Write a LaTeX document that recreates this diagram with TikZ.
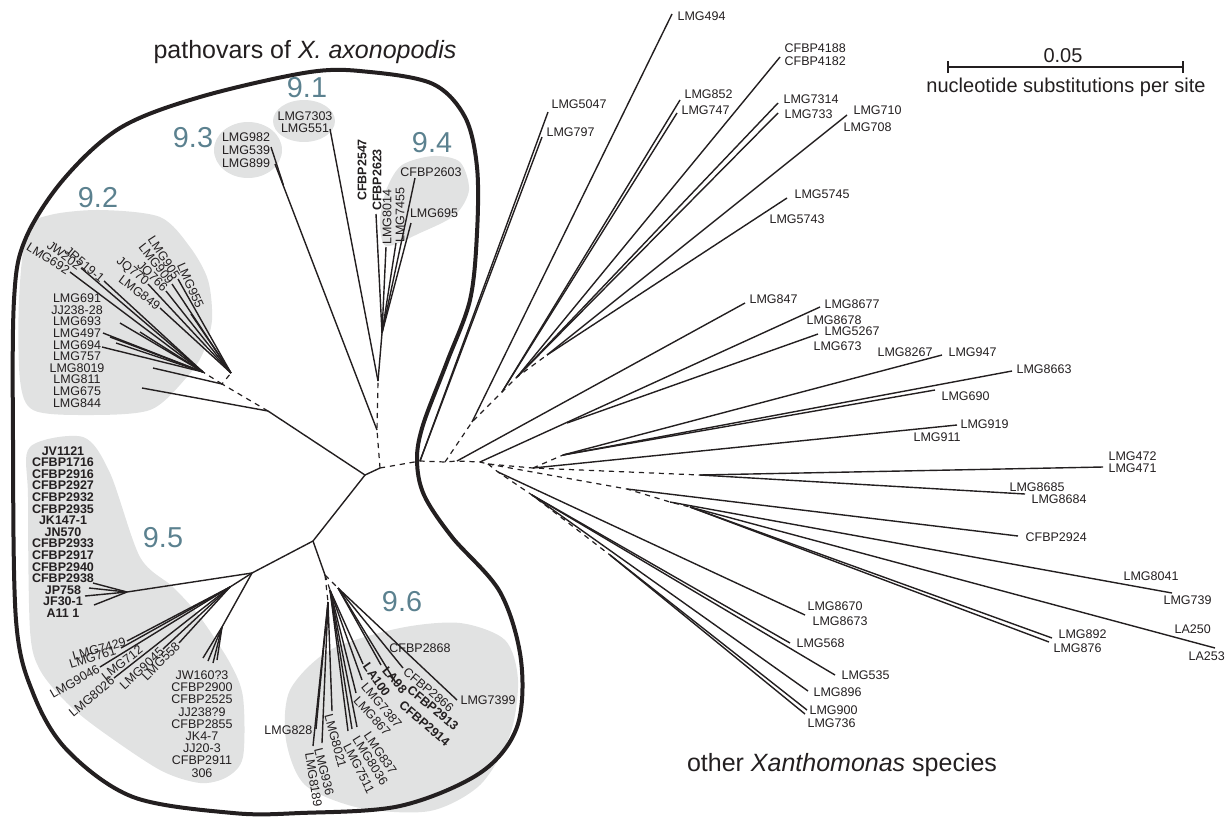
\documentclass[tikz,border=0pt]{standalone}
\usepackage{fontspec}
\setmainfont{Liberation Sans}
\definecolor{clustcol}{RGB}{91,129,143}
\definecolor{blobgrey}{RGB}{225,226,226}
\definecolor{inkcol}{RGB}{35,31,32}
\tikzset{
  br/.style={inkcol,line width=0.7pt},
  dbr/.style={inkcol,line width=0.6pt,dash pattern=on 2.6pt off 2.4pt},
  lf/.style={inkcol,font=\fontsize{6.25}{5.8}\selectfont,inner sep=0.6pt},
  lfb/.style={lf,font=\fontsize{6.25}{5.8}\selectfont\bfseries},
  blob/.style={fill=blobgrey},
  clab/.style={text=clustcol,font=\fontsize{14.4}{15}\selectfont},
}
\begin{document}
\begin{tikzpicture}[x=0.5pt,y=-0.5pt]
  \useasboundingbox (0,0) rectangle (1231,820);
  % grey cluster areas
  \fill[blob] plot[smooth cycle] coordinates {(27,230) (50,215) (100,210) (160,217) (190,247) (208,280) (212,320) (203,353) (187,377) (150,410) (83,415) (33,410) (20,380) (19,300)};
  \fill[blob] (304,121) ellipse [x radius=15.5pt,y radius=10.5pt];
  \fill[blob] (248,150) ellipse [x radius=17pt,y radius=14pt];
  \fill[blob] plot[smooth cycle] coordinates {(387,188) (402,165) (433,156) (460,162) (469,190) (455,215) (420,233) (386,246) (380,220)};
  \fill[blob] plot[smooth cycle] coordinates {(30,447) (83,437) (110,473) (140,557) (173,587) (200,617) (230,663) (243,697) (243,757) (227,777) (200,783) (160,770) (100,730) (67,703) (40,670) (30,630) (28,497)};
  \fill[blob] plot[smooth cycle] coordinates {(290,690) (330,650) (400,628) (460,623) (505,640) (518,680) (510,735) (480,785) (430,811) (360,808) (305,785) (286,740)};
  % outline of the pathovar group
  \draw[inkcol,line width=2pt] plot[smooth cycle,tension=0.55] coordinates {(300,813) (400,806) (480,773) (517,727) (521,660) (500,592) (452,537) (424,495) (417,460) (423,425) (447,362) (470,300) (477,233) (477,167) (465,117) (433,84) (370,72) (310,72) (200,97) (120,128) (63,180) (25,240) (14,300) (13,440) (16,620) (33,693) (67,750) (133,797) (233,813)};

  % backbone of the pathovars
  \coordinate (nA) at (380,468);
  \coordinate (nB) at (365,475);
  \coordinate (n92) at (268,411);
  \coordinate (n95) at (313,541);
  \coordinate (n93) at (377,430);
  \coordinate (nN) at (378,381);
  \coordinate (nP) at (382,333);
  \draw[br] (nA) -- (nB) -- (n92);
  \draw[br] (nB) -- (n95);
  \draw[dbr] (nA) -- (n93) -- (nN);

  % 9.2
  \coordinate (n92c) at (222,384);
  \coordinate (n92a) at (231,373);
  \coordinate (n92b) at (203,372);
  \draw[dbr] (n92) -- (n92c) -- (n92a);
  \draw[dbr] (n92c) -- (n92b);
  \coordinate (e955) at (191,314);
  \coordinate (e905) at (178,279);
  \coordinate (e909) at (172,284);
  \coordinate (e766) at (166,291);
  \coordinate (e770) at (148,284);
  \coordinate (e849) at (160,308);
  \foreach \leaf in {e955,e905,e909,e766,e770,e849} \draw[br] (n92a) -- (\leaf);
  \coordinate (e692) at (70,272);
  \coordinate (e202) at (81,268);
  \coordinate (e519) at (104,281);
  \coordinate (e693) at (120,323);
  \coordinate (e497) at (103,333);
  \coordinate (e497b) at (110,337);
  \coordinate (e694) at (102,347);
  \coordinate (e757) at (116,343);
  \coordinate (e691) at (140,332);
  \foreach \leaf in {e692,e202,e519,e693,e497,e497b,e694,e757,e691} \draw[br] (n92b) -- (\leaf);
  \coordinate (e8019) at (153,368);
  \coordinate (e844) at (142,388);
  \draw[br] (n92c) -- (e8019);
  \draw[br] (n92) -- (e844);
  \node[lf,anchor=east,rotate=-66] (t955) at (201,309) {LMG955};
  \node[lf,anchor=east,rotate=-57] (t905) at (e905) {LMG905};
  \node[lf,anchor=east,rotate=-52] (t909) at (e909) {LMG909};
  \node[lf,anchor=east,rotate=-45] (t766) at (e766) {JQ766};
  \node[lf,anchor=east,rotate=-38] (t770) at (e770) {JQ770};
  \node[lf,anchor=east,rotate=-37] (t849) at (e849) {LMG849};
  \node[lf,anchor=east,rotate=-32] (t692) at (e692) {LMG692};
  \node[lf,anchor=east,rotate=-37] (t202) at (e202) {JW202};
  \node[lf,anchor=east,rotate=-40] (t519) at (e519) {JR519-1};
  \node[lf,align=center] (t92list) at (77,350.5) {LMG691\\JJ238-28\\LMG693\\LMG497\\LMG694\\LMG757\\LMG8019\\LMG811\\LMG675\\LMG844};

  % 9.1, 9.3, 9.4
  \coordinate (e899) at (275,164);
  \coordinate (n93j) at (283.4,185);
  \coordinate (e539) at (271,147);
  \draw[br] (n93) -- (e899);
  \draw[br] (n93j) -- (e539);
  \coordinate (e551) at (330,129);
  \draw[br] (nN) -- (e551);
  \draw[br] (nN) -- (nP);
  \coordinate (e2623) at (376,214);
  \coordinate (e8014) at (386,247);
  \coordinate (e7455) at (396,243);
  \coordinate (e2603) at (415,178);
  \coordinate (e695) at (411,223);
  \foreach \leaf in {e2623,e8014,e7455,e2603,e695} \draw[br] (nP) -- (\leaf);
  \node[lf,align=center,font=\fontsize{6.25}{6}\selectfont] (t91) at (305,122) {LMG7303\\LMG551};
  \node[lf,align=center,font=\fontsize{6.25}{6.5}\selectfont] (t93) at (246,150) {LMG982\\LMG539\\LMG899};
  \node[lfb,rotate=90] (t2547) at (362,170) {CFBP2547};
  \node[lfb,rotate=90] (t2623) at (377,180) {CFBP2623};
  \node[lf,rotate=90] (t8014) at (387,217) {LMG8014};
  \node[lf,rotate=90] (t7455) at (400,215) {LMG7455};
  \node[lf] (t2603) at (431,172) {CFBP2603};
  \node[lf] (t695) at (434,213) {LMG695};

  % 9.5
  \coordinate (n95f) at (252,573);
  \coordinate (n95g) at (127,592);
  \coordinate (n95h) at (230,587);
  \coordinate (n95i) at (222,627);
  \draw[br] (n95) -- (n95f) -- (n95g);
  \draw[br] (n95f) -- (n95h);
  \draw[br] (n95f) -- (n95i);
  \coordinate (g1) at (89,588);
  \coordinate (g2) at (85,596);
  \coordinate (g3) at (94,605);
  \coordinate (g4) at (93,583);
  \foreach \leaf in {g1,g2,g3,g4} \draw[br] (n95g) -- (\leaf);
  \coordinate (i1) at (203,658);
  \coordinate (i2) at (208,661);
  \coordinate (i3) at (213,663);
  \coordinate (i4) at (217,660);
  \foreach \leaf in {i1,i2,i3,i4} \draw[br] (n95i) -- (\leaf);
  \coordinate (e7429) at (127,641);
  \coordinate (e761) at (121,648);
  \coordinate (e9046) at (100,667);
  \coordinate (e8026) at (114,678);
  \coordinate (e9045) at (163,649);
  \coordinate (e558) at (179,643);
  \foreach \leaf in {e7429,e761,e9046,e8026,e9045,e558} \draw[br] (n95h) -- (\leaf);
  \node[lf,anchor=east,rotate=16] (t7429) at (e7429) {LMG7429};
  \node[lf,anchor=east,rotate=17] (t761) at (117,650) {LMG761};
  \node[lf,anchor=east,rotate=30] (t9046) at (e9046) {LMG9046};
  \node[lf,rotate=38] (t712) at (122,663) {LMG712};
  \node[lf,anchor=east,rotate=40] (t8026) at (e8026) {LMG8026};
  \node[lf,anchor=east,rotate=43] (t9045) at (e9045) {LMG9045};
  \node[lf,anchor=east,rotate=45] (t558) at (e558) {LMG558};
  \node[lfb,align=center] (t95list) at (63,532) {JV1121\\CFBP1716\\CFBP2916\\CFBP2927\\CFBP2932\\CFBP2935\\JK147-1\\JN570\\CFBP2933\\CFBP2917\\CFBP2940\\CFBP2938\\JP758\\JF30-1\\A11 1};
  \node[lf,align=center,font=\fontsize{6.25}{6.1}\selectfont] (t95jw) at (202,724) {JW160?3\\CFBP2900\\CFBP2525\\JJ238?9\\CFBP2855\\JK4-7\\JJ20-3\\CFBP2911\\306};

  % 9.6
  \coordinate (n96) at (325,575);
  \coordinate (n96a) at (328,602);
  \coordinate (n96b) at (330,590);
  \coordinate (n96c) at (338,588);
  \draw[br] (n95) -- (n96);
  \draw[dbr] (n96) -- (n96a);
  \draw[dbr] (n96) -- (n96b);
  \draw[dbr] (n96) -- (n96c);
  \coordinate (e8189) at (313,746);
  \coordinate (e936) at (322,743);
  \coordinate (e828) at (316,729);
  \coordinate (e8021) at (332,711);
  \foreach \leaf in {e8189,e936,e828,e8021} \draw[br] (n96a) -- (\leaf);
  \coordinate (e837) at (357,727);
  \coordinate (e8036) at (352,729);
  \coordinate (e7511) at (348,731);
  \coordinate (e867) at (356,693);
  \coordinate (e7387) at (362,680);
  \coordinate (e100) at (363,664);
  \foreach \leaf in {e837,e8036,e7511,e867,e7387,e100} \draw[br] (n96b) -- (\leaf);
  \coordinate (e98) at (381,665);
  \coordinate (e2913) at (396,683);
  \coordinate (e2866) at (403,668);
  \coordinate (e7399) at (457,700);
  \foreach \leaf in {e98,e2913,e2866,e7399} \draw[br] (n96c) -- (\leaf);
  \node[lf,anchor=west,rotate=-81] (t8189) at (309,751) {LMG8189};
  \node[lf,anchor=west,rotate=-76] (t936) at (318,747) {LMG936};
  \node[lf,anchor=east] (t828) at (314,730) {LMG828};
  \node[lf,anchor=west,rotate=-75] (t8021) at (328,713) {LMG8021};
  \node[lf,anchor=west,rotate=-63] (t7511) at (346,743) {LMG7511};
  \node[lf,anchor=west,rotate=-58] (t8036) at (355,736) {LMG8036};
  \node[lf,anchor=west,rotate=-56] (t837) at (366,732) {LMG837};
  \node[lf,anchor=west,rotate=-48] (t867) at (355,697) {LMG867};
  \node[lf,anchor=west,rotate=-50] (t7387) at (363,683) {LMG7387};
  \node[lfb,anchor=west,rotate=-55] (t100) at (365,663) {LA100};
  \node[lfb,anchor=west,rotate=-50] (t98) at (384,667) {LA98};
  \node[lf,anchor=west,rotate=-40] (t2866) at (404,669) {CFBP2866};
  \node[lfb,anchor=west,rotate=-40] (t2913) at (408,687) {CFBP2913};
  \node[lfb,anchor=west,rotate=-41] (t2914) at (400,702) {CFBP2914};
  \node[lf] (t2868) at (420,648) {CFBP2868};
  \node[lf,anchor=west] (t7399) at (459,700) {LMG7399};

  % other Xanthomonas species
  \coordinate (R) at (420,461);
  \coordinate (u0) at (445,462);
  \coordinate (u1) at (472,422);
  \coordinate (u2) at (502,392);
  \coordinate (u3) at (517,377);
  \coordinate (u4) at (547,355);
  \coordinate (m1) at (457,461);
  \coordinate (m2) at (480,462);
  \coordinate (d1) at (488,464);
  \coordinate (m3) at (533,468);
  \coordinate (m4) at (563,455);
  \coordinate (m5) at (700,475);
  \coordinate (j5267) at (567,423);
  \coordinate (l1) at (627,489);
  \coordinate (l2) at (670,502);
  \coordinate (l3) at (690,507);
  \coordinate (k1) at (498,472);
  \coordinate (k2) at (532,495);
  \coordinate (k3) at (610,555);
  \draw[dbr] (nA) -- (R) -- (u0) -- (m1) -- (m2) -- (d1) -- (m3) -- (m5);
  \draw[dbr] (u0) -- (u1) -- (u2) -- (u3) -- (u4);
  \draw[dbr] (m3) -- (m4);
  \draw[dbr] (d1) -- (l1) -- (l2) -- (l3);
  \draw[dbr] (d1) -- (k1) -- (k2) -- (k3);
  \coordinate (e5047) at (548,112);
  \coordinate (e797) at (542,137);
  \coordinate (e494) at (672,14);
  \coordinate (e852) at (680,100);
  \coordinate (e747) at (677,113);
  \coordinate (e4188) at (780,57);
  \coordinate (e7314) at (778,103);
  \coordinate (e733) at (778,113);
  \coordinate (e710) at (847,115);
  \coordinate (e5745) at (787,198);
  \coordinate (e847) at (745,303);
  \coordinate (e8677) at (820,307);
  \coordinate (e5267) at (818,334);
  \coordinate (e947) at (942,355);
  \coordinate (e8663) at (1012,371);
  \coordinate (e690) at (935,390);
  \coordinate (e919) at (957,425);
  \coordinate (e472) at (1103,467);
  \coordinate (e8685) at (1025,494);
  \coordinate (e2924) at (1018,536);
  \coordinate (e8041) at (1172,593);
  \coordinate (e250) at (1215,648);
  \coordinate (e892) at (1052,638);
  \coordinate (e876) at (1049,642);
  \coordinate (e8670) at (805,615);
  \coordinate (e568) at (790,643);
  \coordinate (e535) at (835,675);
  \coordinate (e896) at (808,691);
  \coordinate (e900) at (807,710);
  \coordinate (e736) at (805,714);
  \draw[br] (R) -- (e5047);
  \draw[br] (R) -- (e797);
  \draw[br] (u1) -- (e494);
  \draw[br] (u2) -- (e852);
  \draw[br] (u2) -- (e747);
  \foreach \leaf in {e4188,e7314,e733} \draw[br] (u3) -- (\leaf);
  \foreach \leaf in {e710,e5745} \draw[br] (u4) -- (\leaf);
  \draw[br] (m1) -- (e847);
  \draw[br] (m2) -- (e8677);
  \draw[br] (j5267) -- (e5267);
  \draw[br] (m3) -- (e919);
  \foreach \leaf in {e947,e8663,e690} \draw[br] (m4) -- (\leaf);
  \foreach \leaf in {e472,e8685} \draw[br] (m5) -- (\leaf);
  \draw[br] (l1) -- (e2924);
  \draw[br] (l2) -- (e8041);
  \foreach \leaf in {e250,e892,e876} \draw[br] (l3) -- (\leaf);
  \draw[br] (k1) -- (e8670);
  \foreach \leaf in {e568,e535,e896} \draw[br] (k2) -- (\leaf);
  \foreach \leaf in {e900,e736} \draw[br] (k3) -- (\leaf);
  \node[lf,anchor=west] (t494) at (676,16) {LMG494};
  \node[lf,anchor=west] (t5047) at (550,104) {LMG5047};
  \node[lf,anchor=west] (t797) at (545,132) {LMG797};
  \node[lf,anchor=west] (t852) at (683,94) {LMG852};
  \node[lf,anchor=west] (t747) at (680,110) {LMG747};
  \node[lf,anchor=west] (t4188) at (783,48) {CFBP4188};
  \node[lf,anchor=west] (t4182) at (783,61) {CFBP4182};
  \node[lf,anchor=west] (t7314) at (782,99) {LMG7314};
  \node[lf,anchor=west] (t733) at (783,114) {LMG733};
  \node[lf,anchor=west] (t710) at (852,110) {LMG710};
  \node[lf,anchor=west] (t708) at (842,127) {LMG708};
  \node[lf,anchor=west] (t5745) at (793,194) {LMG5745};
  \node[lf,anchor=west] (t5743) at (768,219) {LMG5743};
  \node[lf,anchor=west] (t847) at (748,299) {LMG847};
  \node[lf,anchor=west] (t8677) at (823,304) {LMG8677};
  \node[lf,anchor=west] (t8678) at (805,320) {LMG8678};
  \node[lf,anchor=west] (t5267) at (823,331) {LMG5267};
  \node[lf,anchor=west] (t673) at (812,346) {LMG673};
  \node[lf,anchor=west] (t8267) at (876,352) {LMG8267};
  \node[lf,anchor=west] (t947) at (947,352) {LMG947};
  \node[lf,anchor=west] (t8663) at (1015,369) {LMG8663};
  \node[lf,anchor=west] (t690) at (940,396) {LMG690};
  \node[lf,anchor=west] (t919) at (959,424) {LMG919};
  \node[lf,anchor=west] (t911) at (912,437) {LMG911};
  \node[lf,anchor=west] (t472) at (1107,456) {LMG472};
  \node[lf,anchor=west] (t471) at (1107,468) {LMG471};
  \node[lf,anchor=west] (t8685) at (1008,487) {LMG8685};
  \node[lf,anchor=west] (t8684) at (1030,499) {LMG8684};
  \node[lf,anchor=west] (t2924) at (1024,537) {CFBP2924};
  \node[lf,anchor=west] (t8041) at (1122,576) {LMG8041};
  \node[lf,anchor=west] (t739) at (1162,600) {LMG739};
  \node[lf,anchor=west] (t250) at (1173,629) {LA250};
  \node[lf,anchor=west] (t253) at (1187,656) {LA253};
  \node[lf,anchor=west] (t892) at (1057,634) {LMG892};
  \node[lf,anchor=west] (t876) at (1052,648) {LMG876};
  \node[lf,anchor=west] (t8670) at (806,606) {LMG8670};
  \node[lf,anchor=west] (t8673) at (811,621) {LMG8673};
  \node[lf,anchor=west] (t568) at (795,643) {LMG568};
  \node[lf,anchor=west] (t535) at (840,675) {LMG535};
  \node[lf,anchor=west] (t896) at (812,692) {LMG896};
  \node[lf,anchor=west] (t900) at (808,710) {LMG900};
  \node[lf,anchor=west] (t736) at (806,723) {LMG736};

  % cluster names and titles
  \node[clab] (c91) at (307,88) {9.1};
  \node[clab] (c92) at (98,198) {9.2};
  \node[clab] (c93) at (193,138) {9.3};
  \node[clab] (c94) at (432,143) {9.4};
  \node[clab] (c95) at (163,538) {9.5};
  \node[clab] (c96) at (402,602) {9.6};
  \node[inkcol,font=\fontsize{12.5}{14}\selectfont] (title) at (305,52) {pathovars of \textit{X. axonopodis}};
  \node[inkcol,font=\fontsize{12.5}{14}\selectfont] (others) at (842,765) {other \textit{Xanthomonas} species};

  % scale bar
  \coordinate (sbL) at (948,67);
  \coordinate (sbR) at (1183,67);
  \draw[inkcol,line width=0.9pt] (sbL) -- (sbR);
  \draw[inkcol,line width=0.9pt] ([yshift=3pt]sbL) -- ([yshift=-3pt]sbL);
  \draw[inkcol,line width=0.9pt] ([yshift=3pt]sbR) -- ([yshift=-3pt]sbR);
  \node[inkcol,font=\fontsize{10}{12}\selectfont] (sbval) at (1063,56) {0.05};
  \node[inkcol,font=\fontsize{10}{12}\selectfont] (sbtxt) at (1066,87) {nucleotide substitutions per site};
\end{tikzpicture}
\end{document}
